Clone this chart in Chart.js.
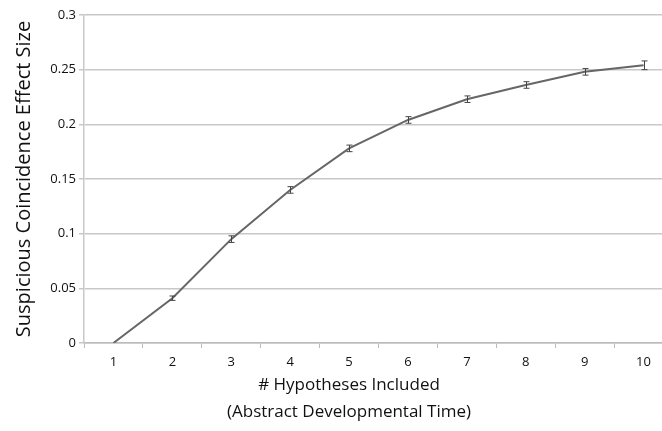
<!DOCTYPE html>
<html>
<head>
<meta charset="utf-8">
<script src="https://cdn.jsdelivr.net/npm/chart.js@4/dist/chart.umd.min.js"></script>
<style>
  html, body { margin: 0; padding: 0; background: #fff; overflow: hidden; }
  #wrap { width: 674px; height: 431px; }
</style>
</head>
<body>
<div id="wrap"><canvas id="c" width="674" height="431"></canvas></div>
<script>
const categories = ['1', '2', '3', '4', '5', '6', '7', '8', '9', '10'];
const effectSize = [0.0, 0.041, 0.095, 0.140, 0.178, 0.204, 0.223, 0.236, 0.248, 0.254];
const errorMargin = [0.0, 0.002, 0.003, 0.003, 0.003, 0.003, 0.003, 0.003, 0.003, 0.004];
const yTicks = ['0', '0.05', '0.1', '0.15', '0.2', '0.25', '0.3'];
const xTitleLines = ['# Hypotheses Included', '(Abstract Developmental Time)'];
const yTitle = 'Suspicious Coincidence Effect Size';

const FONT = '"Open Sans", "DejaVu Sans", sans-serif';

const errorBars = {
  id: 'errorBars',
  afterDatasetsDraw(chart) {
    const ctx = chart.ctx;
    const xs = chart.scales.x, ys = chart.scales.y;
    ctx.save();
    ctx.strokeStyle = '#444';
    ctx.lineWidth = 1;
    effectSize.forEach((v, i) => {
      const e = errorMargin[i];
      if (!e) return;
      const x = Math.round(xs.getPixelForValue(i)) + 0.5;
      const y1 = ys.getPixelForValue(v + e);
      const y2 = ys.getPixelForValue(v - e);
      ctx.beginPath();
      ctx.moveTo(x, y1); ctx.lineTo(x, y2);
      ctx.moveTo(x - 3, y1); ctx.lineTo(x + 3, y1);
      ctx.moveTo(x - 3, y2); ctx.lineTo(x + 3, y2);
      ctx.stroke();
    });
    ctx.restore();
  }
};

const xTitle = {
  id: 'xTitle',
  afterDraw(chart) {
    const ctx = chart.ctx;
    ctx.save();
    ctx.fillStyle = '#111';
    ctx.font = '17px ' + FONT;
    ctx.textAlign = 'center';
    ctx.textBaseline = 'middle';
    ctx.fillText(xTitleLines[0], 349, 385);
    ctx.fillText(xTitleLines[1], 349, 412);
    ctx.restore();
  }
};

new Chart(document.getElementById('c'), {
  type: 'line',
  data: {
    labels: categories,
    datasets: [{
      data: effectSize,
      borderColor: '#666',
      borderWidth: 2,
      pointRadius: 0,
      tension: 0,
      fill: false
    }]
  },
  options: {
    responsive: false,
    animation: false,
    layout: { padding: { top: 15, right: 1, left: 0, bottom: 0 } },
    plugins: { legend: { display: false }, tooltip: { enabled: false } },
    scales: {
      x: {
        offset: true,
        grid: { display: true, drawOnChartArea: false, offset: true, tickLength: 5, color: '#bbb', lineWidth: 1 },
        border: { display: true, color: '#bbb', width: 1.5 },
        ticks: { color: '#111', font: { family: FONT, size: 13 }, padding: 6, maxRotation: 0 },
        afterFit(s) { s.height = 88; }
      },
      y: {
        min: 0, max: 0.3,
        grid: { color: '#c8c8c8', lineWidth: 1.5, tickLength: 5 },
        border: { display: true, color: '#c8c8c8', width: 1.5 },
        ticks: {
          stepSize: 0.05,
          color: '#111',
          font: { family: FONT, size: 13 },
          padding: 3,
          callback: (v, i) => yTicks[i]
        },
        title: {
          display: true,
          text: yTitle,
          color: '#111',
          font: { family: FONT, size: 20 },
          padding: { top: 12, bottom: 4 }
        },
        afterFit(s) { s.width = 84; }
      }
    }
  },
  plugins: [errorBars, xTitle]
});
</script>
</body>
</html>
